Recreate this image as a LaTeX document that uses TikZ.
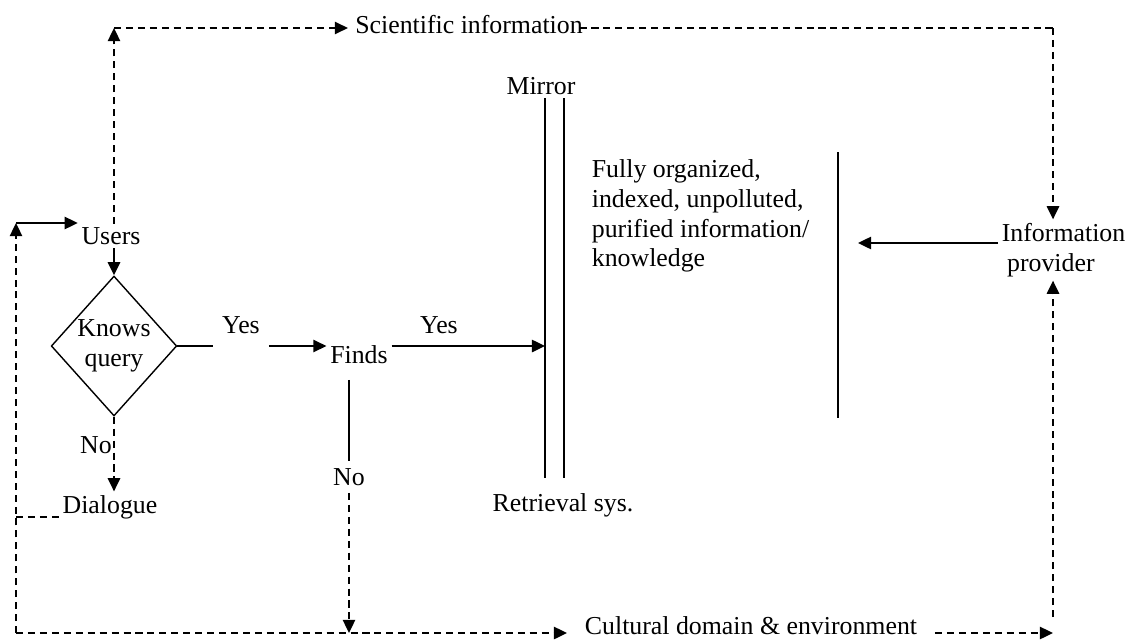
\documentclass[tikz,border=0pt]{standalone}
\usepackage{fontspec}
\setmainfont{Liberation Serif}
\usetikzlibrary{shapes.geometric, arrows.meta, calc}

\begin{document}
\begin{tikzpicture}[x=0.02cm, y=-0.02cm,
    every node/.style={font=\fontsize{14.7}{17}\selectfont, inner sep=2pt},
    wall/.style={line width=0.8pt},
    arr/.style={line width=1.2pt, -{Triangle[length=7.5pt,width=7pt]}},
    dline/.style={line width=1.1pt, dash pattern=on 4pt off 2.8pt},
    darr/.style={dline, -{Triangle[length=7.5pt,width=7pt]}}]
\useasboundingbox (0,0) rectangle (1125,639);

% Labels and boxes
\node (users) at (111,236) {Users};
\node[diamond, draw, wall, inner sep=0pt, minimum width=2.36cm, minimum height=2.8cm, align=center] (knows) at (114,346) {Knows\\query};
\node[inner xsep=5pt] (yesA) at (241,325) {Yes};
\node (finds) at (359,355) {Finds};
\node (yesB) at (439,325) {Yes};
\node (noA) at (96,445) {No};
\node (dialogue) at (110,507) {Dialogue};
\node[inner ysep=4pt] (noB) at (349,477) {No};
\node (mirror) at (541,86) {Mirror};
\node (retrieval) at (563,505) {Retrieval sys.};
\node[anchor=west, align=left] (knowledge) at (588,216) {Fully organized,\\indexed, unpolluted,\\purified information/\\knowledge};
\node[anchor=west, align=left] (provider) at (998,250) {Information\\\hspace*{3pt}provider};
\node[inner xsep=4pt] (sci) at (469,25) {Scientific information};
\node[inner xsep=10pt] (cultural) at (751,626) {Cultural domain \& environment};

% Corners
\coordinate (topL) at (114,28);
\coordinate (topR) at (1053,28);
\coordinate (botL) at (16,633);
\coordinate (botR) at (1053,633);
\coordinate (leftT) at (16,223);
\coordinate (dialL) at (16,517);
\coordinate (mirrorin) at (545,346);
\coordinate (wallin) at (858,243);

% Mirror and the store wall
\draw[wall] (545,98) -- (545,478);
\draw[wall] (564,98) -- (564,478);
\draw[wall] (838,152) -- (838,418);

% Scientific information loop
\draw[darr] (users.north -| knows.north) -- (topL);
\draw[darr] (topL) -- (sci.west |- topL);
\draw[dline] ([xshift=-6pt]sci.east |- topR) -- (topR);
\draw[darr] (topR) -- (provider.north -| topR);

% Query flow
\draw[arr] (users.south -| knows.north) -- (knows.north);
\draw[wall] (knows.east) -- (knows.east -| yesA.west);
\draw[arr] (yesA.east |- knows.east) -- (finds.west |- knows.east);
\draw[arr] (finds.east |- knows.east) -- (mirrorin);
\draw[arr] (provider.west |- wallin) -- (wallin);

% No branches
\draw[darr] (knows.south) -- (dialogue.north -| knows.south);
\draw[dline] (dialL) -- (dialL -| dialogue.west);
\draw[wall] ($(finds.south -| noB.north)+(0,12)$) -- (noB.north);
\draw[darr] (noB.south) -- (noB.south |- botL);

% Cultural domain loop
\draw[darr] (botL) -- (leftT);
\draw[arr] (leftT) -- (leftT -| users.west);
\draw[darr] (botL) -- (cultural.west |- botL);
\draw[darr] (cultural.east |- botR) -- (botR);
\draw[darr] ($(botR)+(0,-16)$) -- (provider.south -| botR);
\end{tikzpicture}
\end{document}
